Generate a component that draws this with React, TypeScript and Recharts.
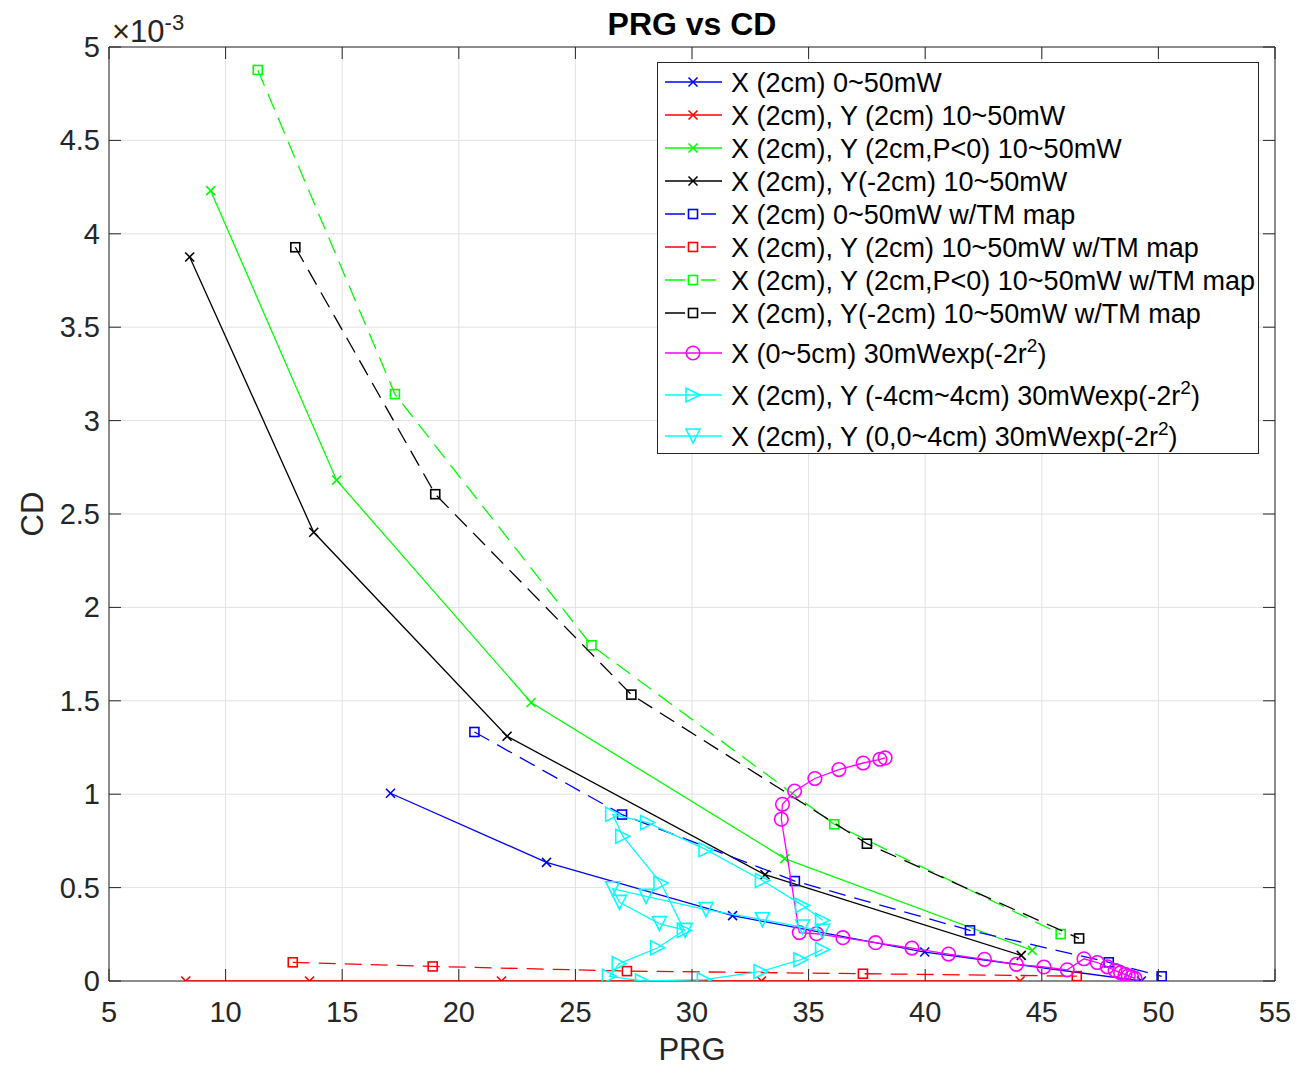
import React from "react";
import { ScatterChart, Scatter, XAxis, YAxis, CartesianGrid, ReferenceLine } from "recharts";

const FONT = '"Liberation Sans", Arial, Helvetica, sans-serif';
const AXIS = "#262626";

// PRG (x) and CD (y, in units of 1e-3)
const xBluePrg = [17.07, 23.76, 31.74, 39.98, 49.27];
const xBlueCd = [1.005, 0.635, 0.35, 0.155, 0.0];
const xRedPrg = [8.29, 13.6, 21.83, 32.98, 44.07];
const xRedCd = [0, 0, 0, 0, 0];
const xGreenPrg = [9.36, 14.76, 23.1, 33.98, 44.59];
const xGreenCd = [4.231, 2.681, 1.491, 0.655, 0.164];
const xBlackPrg = [8.46, 13.78, 22.07, 33.13, 44.12];
const xBlackCd = [3.876, 2.402, 1.31, 0.569, 0.137];

const sBluePrg = [20.67, 27.0, 34.41, 41.92, 47.87, 50.14];
const sBlueCd = [1.333, 0.891, 0.535, 0.271, 0.1, 0.025];
const sRedPrg = [12.88, 18.88, 27.21, 37.33, 46.5];
const sRedCd = [0.1, 0.078, 0.053, 0.039, 0.026];
const sGreenPrg = [11.38, 17.26, 25.69, 36.1, 45.81];
const sGreenCd = [4.877, 3.142, 1.797, 0.839, 0.251];
const sBlackPrg = [12.99, 18.99, 27.4, 37.5, 46.6];
const sBlackCd = [3.928, 2.606, 1.533, 0.735, 0.228];

const radialPrg = [
  38.28, 38.06, 37.34, 36.3, 35.27, 34.4, 33.88, 33.83, 34.6, 35.34, 36.47, 37.87, 39.43, 41.0,
  42.54, 43.91, 45.09, 46.09, 46.81, 47.38, 47.81, 48.14, 48.38, 48.57, 48.71, 48.85, 49.0,
];
const radialCd = [
  1.194, 1.187, 1.167, 1.132, 1.084, 1.017, 0.946, 0.866, 0.259, 0.253, 0.232, 0.205, 0.176, 0.144,
  0.116, 0.089, 0.075, 0.06, 0.119, 0.099, 0.076, 0.057, 0.044, 0.035, 0.028, 0.021, 0.014,
];

const sweepPrg = [
  35.6, 34.74, 33.02, 30.6, 28.1, 26.6, 27.03, 28.67, 29.67, 28.53, 26.88, 26.46, 27.88, 30.53,
  32.96, 34.67, 35.6,
];
const sweepCd = [
  0.325, 0.405, 0.538, 0.703, 0.848, 0.892, 0.775, 0.524, 0.271, 0.178, 0.093, 0.025, 0.0, 0.007,
  0.051, 0.114, 0.169,
];

const halfPrg = [29.71, 28.6, 26.89, 26.6, 28.03, 30.6, 33.02, 34.74, 35.6];
const halfCd = [0.271, 0.307, 0.421, 0.494, 0.453, 0.382, 0.328, 0.289, 0.266];

const xTicks = [5, 10, 15, 20, 25, 30, 35, 40, 45, 50, 55];
const yTicks = [0, 0.5, 1, 1.5, 2, 2.5, 3, 3.5, 4, 4.5, 5];

const zip = (prg: number[], cd: number[]) => prg.map((x, i) => ({ x, y: cd[i] }));

type Mark = "x" | "s" | "o" | ">" | "v";

const W = 1284;
const H = 1054;
const Y_AXIS_W = 101;
const X_AXIS_H = 81;
const TOP = 39;
const RIGHT = 17;
const PLOT_W = W - Y_AXIS_W - RIGHT;
const PLOT_H = H - TOP - X_AXIS_H;
const DASH = "17 9";

const drawMarker = (kind: Mark, cx: number, cy: number, color: string) => {
  const sw = 1.6;
  if (kind === "x") {
    const r = 4.5;
    return (
      <g stroke={color} strokeWidth={sw}>
        <line x1={cx - r} y1={cy - r} x2={cx + r} y2={cy + r} />
        <line x1={cx - r} y1={cy + r} x2={cx + r} y2={cy - r} />
      </g>
    );
  }
  if (kind === "s") {
    const r = 4.5;
    return <rect x={cx - r} y={cy - r} width={2 * r} height={2 * r} fill="none" stroke={color} strokeWidth={sw} />;
  }
  if (kind === "o") {
    return <circle cx={cx} cy={cy} r={6.8} fill="none" stroke={color} strokeWidth={sw} />;
  }
  const s = 7;
  const pts =
    kind === ">"
      ? `${cx - s},${cy - s} ${cx - s},${cy + s} ${cx + s},${cy}`
      : `${cx - s},${cy - s} ${cx + s},${cy - s} ${cx},${cy + s}`;
  return <polygon points={pts} fill="none" stroke={color} strokeWidth={sw} />;
};

const series = [
  { name: "X (2cm) 0~50mW", data: zip(xBluePrg, xBlueCd), color: "#0000ff", mark: "x" as Mark },
  { name: "X (2cm), Y (2cm) 10~50mW", data: zip(xRedPrg, xRedCd), color: "#ff0000", mark: "x" as Mark },
  { name: "X (2cm), Y (2cm,P<0) 10~50mW", data: zip(xGreenPrg, xGreenCd), color: "#00ff00", mark: "x" as Mark },
  { name: "X (2cm), Y(-2cm) 10~50mW", data: zip(xBlackPrg, xBlackCd), color: "#000000", mark: "x" as Mark },
  { name: "X (2cm) 0~50mW w/TM map", data: zip(sBluePrg, sBlueCd), color: "#0000ff", mark: "s" as Mark, dash: DASH },
  { name: "X (2cm), Y (2cm) 10~50mW w/TM map", data: zip(sRedPrg, sRedCd), color: "#ff0000", mark: "s" as Mark, dash: DASH },
  { name: "X (2cm), Y (2cm,P<0) 10~50mW w/TM map", data: zip(sGreenPrg, sGreenCd), color: "#00ff00", mark: "s" as Mark, dash: DASH },
  { name: "X (2cm), Y(-2cm) 10~50mW w/TM map", data: zip(sBlackPrg, sBlackCd), color: "#000000", mark: "s" as Mark, dash: DASH },
  { name: "X (0~5cm) 30mWexp(-2r", sup: "2", tail: ")", data: zip(radialPrg, radialCd), color: "#ff00ff", mark: "o" as Mark },
  { name: "X (2cm), Y (-4cm~4cm) 30mWexp(-2r", sup: "2", tail: ")", data: zip(sweepPrg, sweepCd), color: "#00ffff", mark: ">" as Mark },
  { name: "X (2cm), Y (0,0~4cm) 30mWexp(-2r", sup: "2", tail: ")", data: zip(halfPrg, halfCd), color: "#00ffff", mark: "v" as Mark },
];

const XTick = (p: any) => {
  const { x, y, payload } = p;
  return (
    <g>
      <line x1={x} x2={x} y1={y} y2={y - 12} stroke={AXIS} />
      <line x1={x} x2={x} y1={y - PLOT_H} y2={y - PLOT_H + 12} stroke={AXIS} />
      <text x={x} y={y + 41} textAnchor="middle" fontSize={29} fill={AXIS} fontFamily={FONT}>
        {payload.value}
      </text>
    </g>
  );
};

const YTick = (p: any) => {
  const { x, y, payload } = p;
  return (
    <g>
      <line x1={x} x2={x + 12} y1={y} y2={y} stroke={AXIS} />
      <line x1={x + PLOT_W - 12} x2={x + PLOT_W} y1={y} y2={y} stroke={AXIS} />
      <text x={x - 9} y={y + 10} textAnchor="end" fontSize={29} fill={AXIS} fontFamily={FONT}>
        {payload.value}
      </text>
    </g>
  );
};

const legendRows = [20, 53, 86, 119, 152, 185, 218, 251, 291, 333, 374];

const LegendBox = () => (
  <svg
    width={603}
    height={393}
    style={{ position: "absolute", left: 649, top: 54, fontFamily: FONT }}
  >
    <rect x={0.5} y={0.5} width={601} height={391} fill="#fff" stroke={AXIS} />
    {series.map((s, i) => {
      const cy = legendRows[i];
      return (
        <g key={s.name}>
          <line x1={8} x2={s.dash ? 59 : 65} y1={cy} y2={cy} stroke={s.color} strokeWidth={1.3} strokeDasharray={s.dash ? "20 16" : undefined} />
          {drawMarker(s.mark, 36, cy, s.color)}
          <text x={74} y={cy + 10} fontSize={27} fill="#000">
            {s.name}
            {s.sup && (
              <tspan dy={-11} fontSize={19}>
                {s.sup}
              </tspan>
            )}
            {s.tail && <tspan dy={11}>{s.tail}</tspan>}
          </text>
        </g>
      );
    })}
  </svg>
);

export default function App() {
  return (
    <div style={{ position: "relative", width: W, height: H, fontFamily: FONT, background: "#fff" }}>
      <ScatterChart width={W} height={H} margin={{ top: TOP, right: RIGHT, bottom: 0, left: 0 }}>
        <CartesianGrid stroke="#e2e2e2" strokeWidth={1} />
        <XAxis
          type="number"
          dataKey="x"
          domain={[5, 55]}
          ticks={xTicks}
          allowDataOverflow
          height={X_AXIS_H}
          tickSize={0}
          tickMargin={0}
          tick={XTick}
          axisLine={{ stroke: AXIS }}
          tickLine={false}
        />
        <YAxis
          type="number"
          dataKey="y"
          domain={[0, 5]}
          ticks={yTicks}
          allowDataOverflow
          width={Y_AXIS_W}
          tickSize={0}
          tickMargin={0}
          tick={YTick}
          axisLine={{ stroke: AXIS }}
          tickLine={false}
        />
        <ReferenceLine y={5} stroke={AXIS} />
        <ReferenceLine x={55} stroke={AXIS} />
        {series.map((s) => (
          <Scatter
            key={s.name}
            name={s.name}
            data={s.data}
            line={{ stroke: s.color, strokeWidth: 1.3, strokeDasharray: s.dash }}
            shape={(p: any) => drawMarker(s.mark, p.cx, p.cy, s.color)}
            isAnimationActive={false}
          />
        ))}
      </ScatterChart>
      <div
        style={{
          position: "absolute",
          left: 0,
          width: W,
          top: 0,
          textAlign: "center",
          fontSize: 32,
          fontWeight: "bold",
          lineHeight: "32px",
          paddingLeft: Y_AXIS_W - RIGHT,
          boxSizing: "border-box",
        }}
      >
        PRG vs CD
      </div>
      <div
        style={{
          position: "absolute",
          left: Y_AXIS_W,
          width: PLOT_W,
          top: 1024,
          textAlign: "center",
          fontSize: 31,
          color: AXIS,
          lineHeight: "36px",
        }}
      >
        PRG
      </div>
      <div
        style={{
          position: "absolute",
          left: 25,
          top: TOP + PLOT_H / 2,
          transform: "translate(-50%, -50%) rotate(-90deg)",
          fontSize: 31,
          color: AXIS,
          lineHeight: "36px",
        }}
      >
        CD
      </div>
      <div style={{ position: "absolute", left: 104, top: -2, fontSize: 31, color: AXIS, lineHeight: "34px" }}>
        <span style={{ fontWeight: 300 }}>×</span>10<sup style={{ fontSize: 22, verticalAlign: "12px" }}>-3</sup>
      </div>
      <LegendBox />
    </div>
  );
}
